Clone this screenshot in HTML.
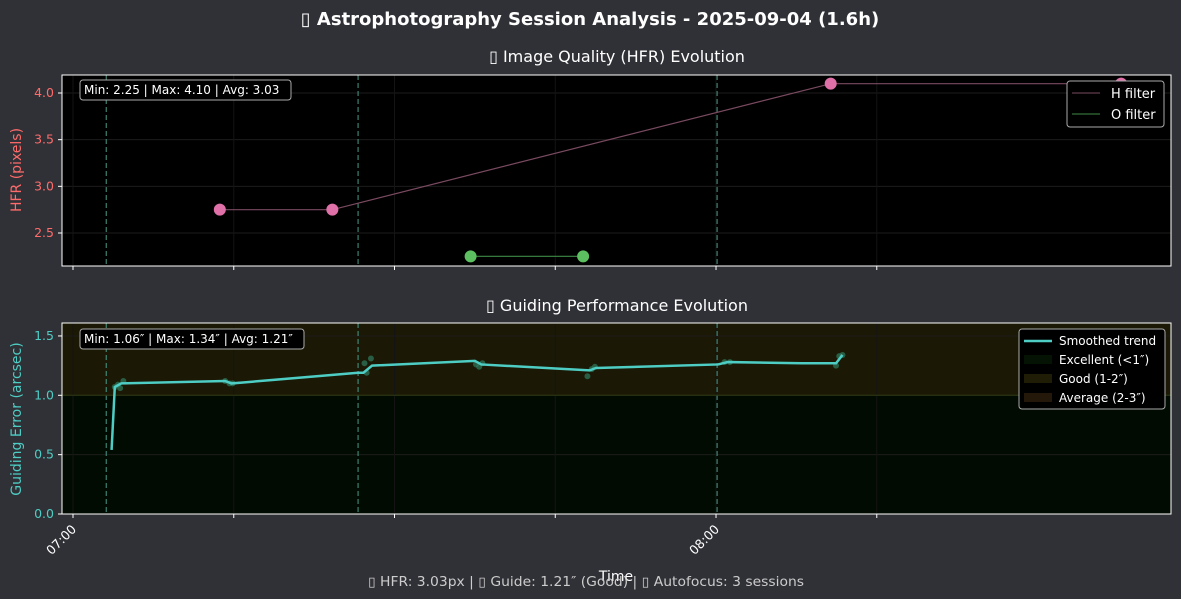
<!DOCTYPE html>
<html><head><meta charset="utf-8"><style>
html,body{margin:0;padding:0;background:#303136;}
svg{display:block;font-family:"DejaVu Sans","Liberation Sans",sans-serif;}
</style></head><body>
<svg id="c" width="1181" height="599" xmlns="http://www.w3.org/2000/svg">
<rect width="1181" height="599" fill="#303136"/>
<text x="590" y="25" text-anchor="middle" fill="#fff" font-size="18" font-weight="bold">▯ Astrophotography Session Analysis - 2025-09-04 (1.6h)</text>
<text x="617" y="62" text-anchor="middle" fill="#fff" font-size="16">▯ Image Quality (HFR) Evolution</text>
<text x="617" y="311" text-anchor="middle" fill="#fff" font-size="16">▯ Guiding Performance Evolution</text>
<g id="top"></g><g id="bot"></g>
<text x="21" y="170" transform="rotate(-90 21 170)" text-anchor="middle" fill="#ff6b6b" font-size="14">HFR (pixels)</text>
<text x="21" y="419" transform="rotate(-90 21 419)" text-anchor="middle" fill="#4ecdc4" font-size="14">Guiding Error (arcsec)</text>
<text x="616" y="581" text-anchor="middle" fill="#fff" font-size="14">Time</text>
<text x="586" y="586" text-anchor="middle" fill="#ccc" font-size="13" textLength="436" lengthAdjust="spacingAndGlyphs">▯ HFR: 3.03px | ▯ Guide: 1.21″ (Good) | ▯ Autofocus: 3 sessions</text>
</svg>
<script>
const hMin=[13.7,24.2,70.7,97.8], hVal=[2.75,2.75,4.1,4.1];
const oMin=[37.1,47.6], oVal=[2.25,2.25];
const afMin=[3.1,26.6,60.1];
const trendMin=[3.6,3.9,4.5,14.2,14.8,26.6,27.1,27.9,37.5,38.1,48.2,48.8,60.2,61.1,68.0,71.2,71.8];
const trendVal=[0.54,1.07,1.10,1.12,1.10,1.19,1.19,1.25,1.29,1.26,1.21,1.23,1.26,1.28,1.27,1.27,1.34];
const gMin=[3.9,4.2,4.4,4.7,14.2,14.6,14.9,27.2,27.8,27.4,37.6,37.9,38.2,48.0,48.4,48.7,60.8,61.3,71.2,71.5,71.8];
const gVal=[1.07,1.09,1.06,1.12,1.12,1.10,1.10,1.27,1.31,1.19,1.26,1.24,1.27,1.16,1.22,1.24,1.28,1.28,1.25,1.33,1.34];
const hfrTicks=[2.5,3.0,3.5,4.0], gTicks=[0.0,0.5,1.0,1.5];
const xMajor=[0,60], xMajorLbl=['07:00','08:00'], xMinor=[15,30,45,75];
const NS='http://www.w3.org/2000/svg';
const X=m=>73+m*10.717;
const L=62,R=1171;
const yT=v=>93+(4.0-v)*93.33;
const yB=v=>514-v*118.7;
function mk(p,t,a){const e=document.createElementNS(NS,t);for(const k in a)e.setAttribute(k,a[k]);p.appendChild(e);return e;}
function axes(g,top,bot,yf,ticks,tcol,name){
  ticks.forEach(v=>{const y=yf(v);
    const gl=mk(g,'line',{x1:L,x2:R,y1:y,y2:y,stroke:'#1c1c1c',"stroke-width":1});
    
    mk(g,'line',{x1:L-4,x2:L,y1:y,y2:y,stroke:'#fff'});
    const t=mk(g,'text',{x:L-8,y:y+4,"text-anchor":"end",fill:tcol,"font-size":12.5});t.textContent=v.toFixed(1);
    });
  xMajor.concat(xMinor).forEach(m=>{mk(g,'line',{x1:X(m),x2:X(m),y1:top,y2:bot,stroke:'#141414'});mk(g,'line',{x1:X(m),x2:X(m),y1:bot,y2:bot+4,stroke:'#fff'});});
  afMin.forEach(m=>{const l=mk(g,'line',{x1:X(m),x2:X(m),y1:top,y2:bot,stroke:'#4a9a88',"stroke-dasharray":"5,3","stroke-width":1});
    });
}
const T=document.getElementById('top');
mk(T,'rect',{x:L,y:75,width:R-L,height:191,fill:'#000'});
axes(T,75,266,yT,hfrTicks,'#ff6b6b','hfr');
function series(g,mins,vals,col,lcol,name){
  const pts=mins.map((m,i)=>X(m)+','+yT(vals[i])).join(' ');
  const pl=mk(g,'polyline',{points:pts,fill:'none',stroke:lcol,"stroke-width":1.2});
  
  mins.forEach((m,i)=>{const c=mk(g,'circle',{cx:X(m),cy:yT(vals[i]),r:5.5,fill:col,stroke:col});
    });
}
series(T,hMin,hVal,'#e070a8','#7a4a60','h-filter');
series(T,oMin,oVal,'#5cc060','#3f8a45','o-filter');
mk(T,'rect',{x:L,y:75,width:R-L,height:191,fill:'none',stroke:'#fff'});
let sb=mk(T,'g',{});
mk(sb,'rect',{x:80,y:80,width:211,height:20,rx:3,fill:'#000',stroke:'#aaa'});
mk(sb,'text',{x:84,y:94,fill:'#fff',"font-size":12}).textContent='Min: 2.25 | Max: 4.10 | Avg: 3.03';
let lg=mk(T,'g',{});
mk(lg,'rect',{x:1067,y:81,width:97,height:46,rx:3,fill:'#000',stroke:'#aaa'});
mk(lg,'line',{x1:1072,x2:1100,y1:93,y2:93,stroke:'#7a4a60'});
mk(lg,'text',{x:1111,y:98,fill:'#fff',"font-size":13}).textContent='H filter';
mk(lg,'line',{x1:1072,x2:1100,y1:114,y2:114,stroke:'#3f8a45'});
mk(lg,'text',{x:1111,y:119,fill:'#fff',"font-size":13}).textContent='O filter';
const B=document.getElementById('bot');
mk(B,'rect',{x:L,y:323,width:R-L,height:191,fill:'#020b02'});
mk(B,'rect',{x:L,y:323,width:R-L,height:yB(1)-323,fill:'#1b1905'});
axes(B,323,514,yB,gTicks,'#4ecdc4','guiding');
mk(B,'line',{x1:L,x2:R,y1:yB(1),y2:yB(1),stroke:'#2e3a10'});
gMin.forEach((m,i)=>{const c=mk(B,'circle',{cx:X(m),cy:yB(gVal[i]),r:3,fill:'#2f7a60',"fill-opacity":0.7});
  });
const tl=mk(B,'polyline',{points:trendMin.map((m,i)=>X(m)+','+yB(trendVal[i])).join(' '),fill:'none',stroke:'#4ecdc4',"stroke-width":2.5});

mk(B,'rect',{x:L,y:323,width:R-L,height:191,fill:'none',stroke:'#fff'});
xMajor.forEach((m,i)=>{const x=X(m);const t=mk(B,'text',{x:x+4,y:530,"text-anchor":"end",fill:'#fff',"font-size":12.5,transform:`rotate(-45 ${x+4} 530)`});
  t.textContent=xMajorLbl[i];});
let sb2=mk(B,'g',{});
mk(sb2,'rect',{x:80,y:329,width:224,height:20,rx:3,fill:'#000',stroke:'#aaa'});
mk(sb2,'text',{x:84,y:343,fill:'#fff',"font-size":12}).textContent='Min: 1.06″ | Max: 1.34″ | Avg: 1.21″';
let lg2=mk(B,'g',{});
mk(lg2,'rect',{x:1019,y:329,width:146,height:80,rx:3,fill:'#000',stroke:'#aaa'});
mk(lg2,'line',{x1:1024,x2:1052,y1:341,y2:341,stroke:'#4ecdc4',"stroke-width":2.5});
mk(lg2,'rect',{x:1024,y:355,width:28,height:9,fill:'#041304'});
mk(lg2,'rect',{x:1024,y:374,width:28,height:9,fill:'#1f1d06'});
mk(lg2,'rect',{x:1024,y:393,width:28,height:9,fill:'#24180a'});
['Smoothed trend','Excellent (<1″)','Good (1-2″)','Average (2-3″)'].forEach((s,i)=>{mk(lg2,'text',{x:1059,y:345+i*19,fill:'#fff',"font-size":12}).textContent=s;});
</script>
</body></html>
